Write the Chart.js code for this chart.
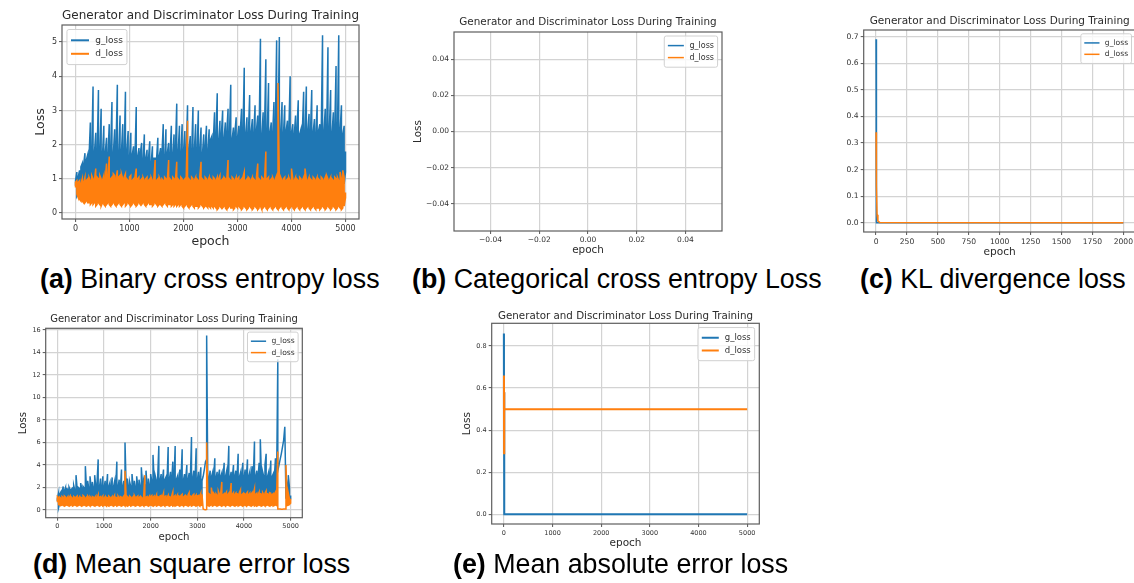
<!DOCTYPE html>
<html>
<head>
<meta charset="utf-8">
<script src="https://cdn.jsdelivr.net/npm/chart.js@4.4.1/dist/chart.umd.min.js"></script>
<style>
    html, body { margin: 0; padding: 0; background: #fff; }
    body { position: relative; width: 1134px; height: 583px; overflow: hidden; }
    canvas { position: absolute; }
    .cap { position: absolute; font-family: "Liberation Sans", Arial, sans-serif; font-size: 26.8px; line-height: 26px; color: #000; white-space: nowrap; }
    .cap b { font-weight: bold; }
</style>
</head>
<body>
<canvas id="chartA"></canvas>
<canvas id="chartB"></canvas>
<canvas id="chartC"></canvas>
<canvas id="chartD"></canvas>
<canvas id="chartE"></canvas>
<div class="cap" style="left:40px; top:266px;"><b>(a)</b> Binary cross entropy loss</div>
<div class="cap" style="left:412px; top:266px;"><b>(b)</b> Categorical cross entropy Loss</div>
<div class="cap" style="left:860px; top:266px;"><b>(c)</b> KL divergence loss</div>
<div class="cap" style="left:33px; top:551px;"><b>(d)</b> Mean square error loss</div>
<div class="cap" style="left:453px; top:551px;"><b>(e)</b> Mean absolute error loss</div>
<script>
const TITLE = 'Generator and Discriminator Loss During Training';
const BLUE = '#1f77b4';
const ORANGE = '#ff7f0e';

// (a) binary cross entropy: low / high of each 25-epoch window
const bceGHi = [
    0.95, 1.20, 1.05, 1.25, 1.35, 1.45, 1.40, 1.75, 1.55, 1.70,
    1.60, 2.65, 1.70, 3.70, 1.75, 2.35, 1.65, 3.60, 1.80, 3.05,
    1.70, 2.55, 1.75, 2.20, 1.65, 2.60, 1.80, 3.25, 1.70, 2.45,
    1.85, 3.75, 1.70, 2.85, 1.75, 2.60, 1.65, 3.55, 1.80, 2.40,
    1.60, 2.35, 1.70, 1.95, 1.55, 3.10, 1.65, 1.90, 1.75, 2.05,
    1.50, 2.30, 1.60, 1.85, 1.55, 2.10, 1.45, 1.95, 1.60, 1.60,
    1.55, 2.20, 1.65, 1.90, 1.70, 2.60, 1.60, 2.45, 1.75, 2.05,
    1.65, 2.55, 1.70, 2.30, 1.80, 3.20, 1.75, 2.55, 1.70, 2.60,
    1.80, 2.40, 1.75, 3.15, 1.85, 2.25, 1.70, 3.10, 1.80, 2.60,
    1.75, 3.00, 1.85, 2.50, 1.70, 2.30, 1.90, 2.55, 1.80, 2.45,
    2.15, 2.25, 2.05, 2.95, 2.20, 3.50, 2.10, 2.70, 2.25, 3.00,
    2.15, 2.65, 2.30, 3.05, 2.20, 3.75, 2.15, 2.50, 2.30, 2.80,
    2.20, 2.55, 2.35, 3.05, 2.25, 4.25, 2.30, 2.80, 2.20, 3.45,
    2.35, 2.75, 2.25, 3.15, 2.40, 2.85, 2.30, 5.10, 2.25, 2.95,
    2.40, 4.50, 2.30, 3.80, 2.35, 2.65, 2.25, 3.25, 2.40, 5.05,
    2.30, 5.15, 2.35, 3.25, 2.25, 3.15, 2.40, 2.70, 2.30, 4.00,
    2.35, 2.60, 2.25, 2.85, 2.40, 3.30, 2.30, 2.45, 2.35, 3.55,
    2.25, 3.70, 2.40, 2.90, 2.30, 3.60, 2.35, 2.75, 2.25, 3.15,
    2.40, 2.60, 2.30, 5.20, 2.35, 3.05, 2.25, 4.85, 2.40, 3.60,
    2.30, 2.95, 2.35, 4.30, 2.25, 5.20, 2.40, 3.15, 2.30, 2.55,
    1.80
];
const bceGLo = [
    0.80, 0.50, 0.60, 0.75, 0.85, 0.90, 0.95, 0.90, 1.00, 0.95,
    0.95, 0.90, 1.00, 0.85, 0.95, 0.90, 0.85, 1.00, 0.90, 0.95,
    0.85, 0.90, 0.95, 0.80, 0.90, 0.85, 0.95, 0.90, 0.80, 0.85,
    0.90, 0.85, 0.80, 0.90, 0.95, 0.85, 0.80, 0.90, 0.85, 0.95,
    0.90, 0.85, 0.95, 0.90, 0.85, 0.80, 0.90, 0.95, 0.85, 0.90,
    0.95, 0.90, 0.85, 0.90, 0.95, 0.85, 0.90, 0.80, 0.90, 0.85,
    0.90, 0.85, 0.95, 0.90, 0.85, 0.90, 0.80, 0.85, 0.90, 0.95,
    0.85, 0.90, 0.80, 0.85, 0.90, 0.95, 0.85, 0.90, 0.80, 0.90,
    0.85, 0.80, 0.90, 0.85, 0.80, 0.90, 0.85, 0.80, 0.90, 0.85,
    0.80, 0.85, 0.90, 0.80, 0.85, 0.80, 0.90, 0.85, 0.80, 0.85,
    0.80, 0.85, 0.75, 0.80, 0.85, 0.80, 0.75, 0.85, 0.80, 0.75,
    0.85, 0.80, 0.75, 0.80, 0.85, 0.75, 0.80, 0.85, 0.75, 0.80,
    0.80, 0.75, 0.85, 0.80, 0.75, 0.80, 0.85, 0.75, 0.80, 0.85,
    0.75, 0.80, 0.85, 0.75, 0.80, 0.75, 0.85, 0.80, 0.75, 0.80,
    0.85, 0.75, 0.80, 0.85, 0.75, 0.80, 0.75, 0.85, 0.80, 0.75,
    0.80, 0.85, 0.75, 0.80, 0.85, 0.75, 0.80, 0.75, 0.85, 0.80,
    0.75, 0.80, 0.85, 0.75, 0.80, 0.85, 0.75, 0.80, 0.75, 0.85,
    0.80, 0.75, 0.80, 0.85, 0.75, 0.80, 0.85, 0.75, 0.80, 0.75,
    0.85, 0.80, 0.75, 0.80, 0.85, 0.75, 0.80, 0.85, 0.75, 0.80,
    0.80, 0.75, 0.85, 0.80, 0.75, 0.80, 0.85, 0.75, 0.80, 0.85,
    1.20
];
const bceDHi = [
    0.90, 0.95, 0.90, 0.95, 0.85, 1.00, 0.90, 1.05, 0.95, 1.00,
    1.05, 0.95, 1.10, 1.00, 0.95, 1.30, 1.05, 1.00, 1.10, 1.00,
    0.95, 1.10, 1.00, 1.45, 1.05, 1.65, 1.00, 1.05, 1.15, 1.10,
    1.00, 1.25, 1.05, 1.10, 1.15, 1.00, 1.05, 1.15, 1.00, 0.95,
    1.05, 1.10, 0.95, 1.00, 1.05, 1.30, 1.00, 1.05, 0.95, 1.00,
    1.05, 0.95, 1.00, 1.05, 0.95, 1.00, 1.05, 0.95, 1.00, 1.55,
    0.95, 1.00, 1.05, 0.95, 1.00, 0.95, 1.05, 1.00, 0.95, 1.55,
    1.00, 0.95, 1.05, 1.00, 0.95, 1.50, 1.00, 0.95, 1.05, 1.00,
    0.95, 1.00, 1.05, 2.70, 1.00, 0.95, 1.05, 1.00, 0.95, 1.05,
    1.00, 0.95, 1.05, 1.50, 1.00, 0.95, 1.05, 1.00, 0.95, 1.05,
    1.00, 0.95, 1.05, 1.00, 0.95, 1.05, 1.00, 1.10, 0.95, 1.00,
    1.05, 1.00, 0.95, 1.55, 1.00, 0.95, 1.05, 1.00, 0.95, 1.05,
    1.00, 1.05, 0.95, 1.00, 1.05, 1.20, 0.95, 1.00, 1.05, 1.00,
    0.95, 1.05, 1.00, 0.95, 1.05, 1.45, 1.00, 0.95, 1.05, 1.00,
    0.95, 1.80, 1.00, 1.05, 0.95, 1.00, 1.05, 0.95, 1.00, 1.10,
    3.80, 1.00, 1.05, 0.95, 1.00, 1.05, 0.95, 1.00, 1.05, 0.95,
    1.30, 1.00, 0.95, 1.05, 1.00, 0.95, 1.05, 1.00, 0.95, 1.05,
    1.30, 1.00, 0.95, 1.05, 1.00, 0.95, 1.05, 1.00, 0.95, 1.05,
    1.00, 0.95, 1.05, 1.00, 0.95, 1.05, 1.10, 1.00, 0.95, 1.05,
    1.00, 0.95, 1.05, 1.00, 1.05, 0.95, 1.20, 1.00, 1.25, 1.05,
    0.60
];
const bceDLo = [
    0.75, 0.55, 0.45, 0.40, 0.35, 0.35, 0.30, 0.30, 0.35, 0.30,
    0.30, 0.25, 0.30, 0.25, 0.30, 0.20, 0.25, 0.30, 0.25, 0.20,
    0.30, 0.25, 0.20, 0.25, 0.30, 0.25, 0.20, 0.25, 0.30, 0.25,
    0.20, 0.25, 0.30, 0.25, 0.20, 0.25, 0.30, 0.20, 0.25, 0.30,
    0.25, 0.20, 0.25, 0.30, 0.25, 0.20, 0.25, 0.30, 0.25, 0.25,
    0.30, 0.25, 0.20, 0.25, 0.30, 0.25, 0.25, 0.20, 0.25, 0.30,
    0.25, 0.20, 0.25, 0.25, 0.20, 0.25, 0.30, 0.25, 0.20, 0.25,
    0.25, 0.20, 0.25, 0.20, 0.25, 0.20, 0.25, 0.20, 0.25, 0.20,
    0.15, 0.20, 0.25, 0.20, 0.15, 0.20, 0.25, 0.20, 0.15, 0.20,
    0.20, 0.15, 0.20, 0.25, 0.20, 0.15, 0.20, 0.20, 0.15, 0.20,
    0.15, 0.20, 0.15, 0.20, 0.15, 0.10, 0.15, 0.20, 0.15, 0.15,
    0.20, 0.15, 0.10, 0.15, 0.20, 0.15, 0.15, 0.10, 0.15, 0.20,
    0.15, 0.20, 0.15, 0.10, 0.15, 0.20, 0.15, 0.10, 0.15, 0.20,
    0.15, 0.10, 0.15, 0.20, 0.15, 0.10, 0.15, 0.20, 0.10, 0.15,
    0.20, 0.15, 0.10, 0.15, 0.20, 0.15, 0.10, 0.15, 0.20, 0.15,
    0.10, 0.15, 0.20, 0.15, 0.10, 0.15, 0.20, 0.15, 0.10, 0.15,
    0.20, 0.15, 0.10, 0.15, 0.20, 0.15, 0.10, 0.15, 0.20, 0.15,
    0.10, 0.15, 0.20, 0.15, 0.10, 0.15, 0.20, 0.15, 0.10, 0.15,
    0.15, 0.10, 0.15, 0.20, 0.15, 0.10, 0.15, 0.20, 0.15, 0.10,
    0.15, 0.20, 0.15, 0.10, 0.15, 0.20, 0.15, 0.10, 0.15, 0.20,
    0.45
];

// (c) KL divergence: collapses to zero right away
const klEpochs = [0, 3, 8, 15, 30, 2000];
const klG = [0.69, 0.0, 0.0, 0.0, 0.0, 0.0];
const klD = [0.34, 0.14, 0.03, 0.006, 0.001, 0.0];

// (d) mean square error: low / high of each 25-epoch window
const mseGHi = [
    1.00, 1.50, 1.40, 1.60, 1.55, 2.10, 1.70, 2.00, 1.90, 1.85,
    2.05, 1.80, 1.85, 1.95, 2.20, 1.75, 3.10, 1.85, 2.00, 1.90,
    2.40, 1.85, 2.10, 1.95, 3.90, 1.90, 2.60, 1.85, 3.00, 1.95,
    2.50, 1.90, 3.10, 2.00, 2.40, 4.50, 1.95, 2.80, 1.90, 3.00,
    2.00, 2.60, 1.95, 3.20, 2.05, 2.40, 1.90, 2.90, 2.00, 2.50,
    1.95, 4.30, 2.00, 2.70, 1.90, 3.60, 2.05, 2.60, 6.00, 2.00,
    2.80, 1.95, 2.50, 2.05, 3.20, 2.00, 2.60, 1.95, 3.00, 2.05,
    2.70, 2.00, 3.80, 2.05, 2.60, 2.10, 3.50, 2.00, 2.80, 2.10,
    3.20, 2.50, 4.90, 2.60, 3.00, 2.55, 2.90, 5.70, 2.60, 3.20,
    2.55, 3.60, 2.65, 2.90, 2.50, 5.60, 2.70, 3.40, 2.55, 4.30,
    2.60, 5.70, 2.70, 3.00, 2.55, 3.60, 2.75, 5.40, 2.60, 3.20,
    2.70, 4.00, 2.60, 3.30, 2.65, 6.50, 2.75, 3.50, 2.60, 5.50,
    2.65, 3.40, 2.70, 3.80, 2.60, 3.00, 3.60, 4.30, 15.50, 2.20,
    2.80, 3.50, 2.90, 3.30, 2.95, 4.60, 2.85, 3.40, 2.90, 3.60,
    2.95, 3.30, 2.85, 4.20, 2.90, 3.40, 2.95, 5.70, 2.85, 3.40,
    2.90, 4.00, 2.95, 3.50, 2.85, 5.00, 2.90, 3.30, 2.95, 4.20,
    2.85, 3.60, 2.90, 4.50, 2.95, 3.40, 2.85, 3.90, 2.90, 6.10,
    2.95, 3.50, 2.85, 4.20, 6.30, 2.90, 3.40, 2.95, 4.00, 5.00,
    2.90, 3.30, 2.85, 4.40, 2.95, 3.20, 2.90, 4.60, 2.85, 13.40,
    4.00, 4.50, 5.00, 5.60, 6.20, 7.40, 3.00, 2.20, 3.10, 2.00,
    1.30
];
const mseGLo = [
    0.80, 0.20, 0.60, 0.80, 0.85, 0.90, 0.85, 0.95, 0.90, 0.85,
    0.90, 0.95, 0.85, 0.90, 1.00, 0.85, 0.90, 0.95, 0.85, 0.90,
    0.95, 0.85, 0.90, 1.00, 0.90, 0.85, 0.95, 0.90, 0.85, 0.95,
    0.90, 0.85, 0.95, 0.90, 1.00, 0.85, 0.90, 0.95, 0.85, 0.90,
    0.85, 0.90, 0.95, 0.85, 0.90, 1.00, 0.85, 0.90, 0.95, 0.85,
    0.90, 0.95, 0.85, 0.90, 1.00, 0.85, 0.90, 0.95, 0.85, 0.90,
    0.95, 0.85, 0.90, 1.00, 0.85, 0.90, 0.95, 0.85, 0.90, 1.00,
    0.85, 0.90, 0.95, 0.85, 0.90, 1.00, 0.85, 0.90, 0.95, 0.85,
    0.90, 0.95, 0.85, 0.90, 1.00, 0.85, 0.90, 0.95, 0.85, 0.90,
    0.95, 0.85, 0.90, 1.00, 0.85, 0.90, 0.95, 0.85, 0.90, 1.00,
    0.85, 0.90, 0.95, 0.85, 0.90, 1.00, 0.85, 0.90, 0.95, 0.85,
    0.90, 0.95, 0.85, 0.90, 1.00, 0.85, 0.90, 0.95, 0.85, 0.90,
    0.95, 0.85, 0.90, 1.00, 0.90, 3.00, 3.60, 4.30, 4.50, 1.00,
    0.85, 0.90, 0.95, 0.85, 0.90, 1.00, 0.85, 0.90, 0.95, 0.85,
    0.90, 0.95, 0.85, 0.90, 1.00, 0.85, 0.90, 0.95, 0.85, 0.90,
    0.95, 0.85, 0.90, 1.00, 0.85, 0.90, 0.95, 0.85, 0.90, 1.00,
    0.85, 0.90, 0.95, 0.85, 0.90, 1.00, 0.85, 0.90, 0.95, 0.85,
    0.90, 0.95, 0.85, 0.90, 1.00, 0.85, 0.90, 0.95, 0.85, 0.90,
    0.95, 0.85, 0.90, 1.00, 0.85, 0.90, 0.95, 0.85, 0.90, 3.50,
    4.00, 4.50, 5.00, 5.60, 6.20, 7.40, 1.00, 0.80, 0.90, 0.85,
    1.00
];
const mseDHi = [
    1.20, 1.10, 1.15, 1.05, 1.20, 1.10, 1.25, 1.15, 1.05, 1.20,
    1.10, 1.25, 1.15, 1.05, 1.20, 1.10, 1.15, 1.25, 1.05, 1.20,
    1.15, 1.10, 1.30, 1.20, 1.05, 1.15, 1.25, 1.10, 1.20, 1.05,
    1.20, 1.15, 1.10, 1.25, 1.05, 1.35, 1.15, 1.20, 1.10, 1.25,
    1.05, 1.20, 1.15, 1.10, 1.25, 1.15, 1.05, 1.20, 1.10, 1.30,
    1.15, 1.10, 1.25, 1.05, 1.20, 1.15, 1.10, 1.25, 3.50, 1.15,
    1.20, 1.10, 1.25, 1.15, 1.05, 1.20, 1.30, 1.10, 1.15, 1.25,
    1.10, 1.20, 1.15, 1.05, 1.25, 3.10, 1.15, 1.20, 1.10, 1.25,
    1.20, 1.30, 1.15, 1.25, 1.10, 1.35, 1.20, 1.15, 1.25, 1.30,
    1.15, 1.50, 1.20, 1.25, 1.10, 1.30, 1.20, 1.15, 1.25, 1.60,
    1.20, 1.30, 1.15, 1.35, 1.25, 1.20, 1.30, 1.40, 1.15, 1.25,
    1.30, 1.20, 1.35, 1.55, 1.25, 1.20, 1.30, 1.40, 1.20, 1.35,
    1.25, 1.30, 1.20, 1.50, 1.40, 0.10, 0.05, 0.03, 6.00, 1.30,
    1.45, 1.35, 2.00, 1.40, 1.50, 1.35, 1.45, 1.30, 1.70, 1.40,
    1.50, 2.50, 1.35, 1.45, 1.40, 1.60, 1.35, 1.50, 1.45, 2.40,
    1.40, 1.55, 1.35, 1.50, 1.45, 1.40, 1.55, 1.80, 1.35, 1.45,
    1.50, 1.40, 1.45, 1.60, 1.35, 1.50, 1.40, 1.55, 1.45, 1.90,
    1.40, 1.50, 1.35, 1.60, 1.45, 1.40, 1.55, 1.35, 1.50, 1.70,
    1.45, 1.40, 1.55, 1.50, 1.35, 1.45, 1.40, 1.60, 1.50, 5.20,
    0.10, 0.10, 0.08, 0.08, 0.10, 0.10, 4.00, 1.20, 1.50, 1.00,
    1.00
];
const mseDLo = [
    0.70, 0.50, 0.45, 0.40, 0.45, 0.40, 0.35, 0.40, 0.45, 0.40,
    0.35, 0.40, 0.45, 0.35, 0.40, 0.45, 0.40, 0.35, 0.40, 0.45,
    0.40, 0.35, 0.40, 0.45, 0.40, 0.35, 0.40, 0.45, 0.35, 0.40,
    0.45, 0.40, 0.35, 0.40, 0.45, 0.40, 0.35, 0.40, 0.45, 0.35,
    0.40, 0.45, 0.35, 0.40, 0.35, 0.40, 0.45, 0.40, 0.35, 0.40,
    0.45, 0.35, 0.40, 0.45, 0.40, 0.35, 0.40, 0.45, 0.35, 0.40,
    0.35, 0.40, 0.45, 0.35, 0.40, 0.45, 0.40, 0.35, 0.40, 0.45,
    0.40, 0.35, 0.40, 0.45, 0.35, 0.40, 0.45, 0.40, 0.35, 0.40,
    0.45, 0.40, 0.35, 0.40, 0.45, 0.35, 0.40, 0.45, 0.40, 0.35,
    0.40, 0.45, 0.35, 0.40, 0.45, 0.40, 0.35, 0.40, 0.45, 0.35,
    0.40, 0.35, 0.40, 0.45, 0.40, 0.35, 0.40, 0.45, 0.35, 0.40,
    0.45, 0.40, 0.35, 0.40, 0.45, 0.35, 0.40, 0.45, 0.40, 0.35,
    0.40, 0.45, 0.35, 0.40, 0.45, 0.10, 0.05, 0.03, 0.05, 0.40,
    0.35, 0.40, 0.45, 0.35, 0.40, 0.45, 0.40, 0.35, 0.40, 0.45,
    0.40, 0.35, 0.40, 0.45, 0.35, 0.40, 0.45, 0.40, 0.35, 0.40,
    0.45, 0.40, 0.35, 0.40, 0.45, 0.35, 0.40, 0.45, 0.40, 0.35,
    0.40, 0.45, 0.35, 0.40, 0.45, 0.40, 0.35, 0.40, 0.45, 0.35,
    0.40, 0.35, 0.40, 0.45, 0.40, 0.35, 0.40, 0.45, 0.35, 0.40,
    0.45, 0.40, 0.35, 0.40, 0.45, 0.35, 0.40, 0.45, 0.40, 0.10,
    0.10, 0.10, 0.08, 0.08, 0.10, 0.10, 0.10, 0.40, 0.45, 0.50,
    0.60
];

// (e) mean absolute error: settles after a few epochs
const maeEpochs = [0, 2, 4, 6, 8, 10, 5000];
const maeG = [0.86, 0.29, 0.58, 0.43, 0.52, 0.0, 0.0];
const maeD = [0.50, 0.66, 0.29, 0.58, 0.43, 0.50, 0.50];

// tick values and labels
const epochTicks = [0, 1000, 2000, 3000, 4000, 5000];
const epochLabels = ['0', '1000', '2000', '3000', '4000', '5000'];
const bceTicks = [0, 1, 2, 3, 4, 5];
const bceLabels = ['0', '1', '2', '3', '4', '5'];
const cceTicks = [-0.04, -0.02, 0, 0.02, 0.04];
const cceLabels = ['\u22120.04', '\u22120.02', '0.00', '0.02', '0.04'];
const klEpochTicks = [0, 250, 500, 750, 1000, 1250, 1500, 1750, 2000];
const klEpochLabels = ['0', '250', '500', '750', '1000', '1250', '1500', '1750', '2000'];
const klTicks = [0, 0.1, 0.2, 0.3, 0.4, 0.5, 0.6, 0.7];
const klLabels = ['0.0', '0.1', '0.2', '0.3', '0.4', '0.5', '0.6', '0.7'];
const mseTicks = [0, 2, 4, 6, 8, 10, 12, 14, 16];
const mseLabels = ['0', '2', '4', '6', '8', '10', '12', '14', '16'];
const maeTicks = [0, 0.2, 0.4, 0.6, 0.8];
const maeLabels = ['0.0', '0.2', '0.4', '0.6', '0.8'];

[bceGHi, bceGLo, bceDHi, bceDLo, mseGHi, mseGLo, mseDHi, mseDLo].forEach((arr, k) => {
    if (arr.length !== 201) throw new Error('series ' + k + ' has ' + arr.length + ' values');
});

const EPOCH_STEP = 25;
// each window is drawn as a stroke from its low to its high, snaking left to right
const band = (lo, hi) => lo.flatMap((l, i) => {
    const x = i * EPOCH_STEP;
    return i % 2 === 0 ? [{ x, y: l }, { x, y: hi[i] }] : [{ x, y: hi[i] }, { x, y: l }];
});
const paired = (xs, ys) => ys.map((y, i) => ({ x: xs[i], y }));

Chart.defaults.font.family = '"DejaVu Sans", sans-serif';

// matplotlib look: full axes frame plus a framed legend inside the plot
const mplFrame = {
    id: 'mplFrame',
    afterDraw(chart, args, opts) {
        const { ctx, chartArea: a } = chart;
        ctx.save();
        ctx.strokeStyle = '#5e5e5e';
        ctx.lineWidth = 1.2;
        ctx.strokeRect(a.left, a.top, a.right - a.left, a.bottom - a.top);

        const fs = opts.size;
        const items = chart.data.datasets;
        ctx.font = fs + 'px "DejaVu Sans"';
        const tw = Math.max(...items.map(d => ctx.measureText(d.label).width));
        const pad = 0.45 * fs, hl = 2 * fs, gap = 0.7 * fs, rowH = 1.5 * fs;
        const w = pad * 2 + hl + gap + tw;
        const h = pad * 2 + rowH * items.length;
        const x0 = opts.loc === 'ul' ? a.left + 0.55 * fs : a.right - 0.55 * fs - w;
        const y0 = a.top + 0.5 * fs;

        ctx.beginPath();
        ctx.roundRect(x0, y0, w, h, 2);
        ctx.fillStyle = 'rgba(255,255,255,0.8)';
        ctx.fill();
        ctx.strokeStyle = '#d0d0d0';
        ctx.lineWidth = 1;
        ctx.stroke();

        items.forEach((d, i) => {
            const cy = y0 + pad + rowH * (i + 0.5);
            ctx.beginPath();
            ctx.moveTo(x0 + pad, cy);
            ctx.lineTo(x0 + pad + hl, cy);
            ctx.strokeStyle = d.borderColor;
            ctx.lineWidth = opts.swatch;
            ctx.stroke();
            ctx.fillStyle = '#333';
            ctx.textBaseline = 'middle';
            ctx.textAlign = 'left';
            ctx.fillText(d.label, x0 + pad + hl + gap, cy);
        });
        ctx.restore();
    }
};

function makePanel(id, p) {
    const lh = s => s * 1.2;
    const left = Math.floor(p.yLabelX ? p.yLabelX - lh(p.labelSize) / 2 : p.plot.l - 30);
    const top = Math.floor(p.titleY - lh(p.titleSize) / 2);
    const bottom = Math.ceil(p.xLabelY + lh(p.labelSize) / 2);
    const right = Math.ceil(p.plot.r + 14);

    const cv = document.getElementById(id);
    cv.width = right - left;
    cv.height = bottom - top;
    cv.style.left = left + 'px';
    cv.style.top = top + 'px';

    const titlePadTop = p.titleY - lh(p.titleSize) / 2 - top;
    const titlePadBottom = p.plot.t - top - titlePadTop - lh(p.titleSize);
    const grid = { color: '#d3d3d3', lineWidth: 1.2, drawTicks: true, tickLength: 3, tickColor: '#555', tickWidth: 1 };
    const tickFont = { size: p.tickSize };

    new Chart(cv, {
        type: 'line',
        data: {
            datasets: p.series.map(s => ({
                label: s.label,
                data: s.data,
                borderColor: s.color,
                borderWidth: p.lineWidth,
                pointRadius: 0,
                tension: 0,
                order: s.order
            }))
        },
        options: {
            responsive: false,
            animation: false,
            events: [],
            parsing: false,
            layout: { padding: { left: 0, top: 0, bottom: 0, right: right - p.plot.r } },
            plugins: {
                legend: { display: false },
                tooltip: { enabled: false },
                title: {
                    display: true,
                    text: TITLE,
                    fullSize: false,
                    color: '#2b2b2b',
                    font: { size: p.titleSize, weight: 'normal' },
                    padding: { top: titlePadTop, bottom: titlePadBottom }
                },
                mplFrame: { loc: p.legendLoc, size: p.legendSize, swatch: p.swatch }
            },
            scales: {
                x: {
                    type: 'linear',
                    min: p.x.min,
                    max: p.x.max,
                    afterBuildTicks: s => { s.ticks = p.x.ticks.map(v => ({ value: v })); },
                    afterFit: s => { s.height = bottom - p.plot.b; },
                    ticks: { callback: (v, i) => p.x.labels[i], font: tickFont, color: '#333', padding: 2, maxRotation: 0, autoSkip: false },
                    grid: grid,
                    border: { display: false },
                    title: {
                        display: true,
                        text: 'epoch',
                        color: '#2b2b2b',
                        font: { size: p.labelSize },
                        padding: { top: 0, bottom: bottom - p.xLabelY - lh(p.labelSize) / 2 }
                    }
                },
                y: {
                    type: 'linear',
                    min: p.y.min,
                    max: p.y.max,
                    afterBuildTicks: s => { s.ticks = p.y.ticks.map(v => ({ value: v })); },
                    afterFit: s => { s.width = p.plot.l - left; },
                    ticks: { callback: (v, i) => p.y.labels[i], font: tickFont, color: '#333', padding: 2, autoSkip: false },
                    grid: grid,
                    border: { display: false },
                    title: {
                        display: !!p.yLabelX,
                        text: 'Loss',
                        color: '#2b2b2b',
                        font: { size: p.labelSize },
                        padding: { top: p.yLabelX ? p.yLabelX - lh(p.labelSize) / 2 - left : 0, bottom: 0 }
                    }
                }
            }
        },
        plugins: [mplFrame]
    });
}

// g_loss drawn first, d_loss over it
const seriesOf = (g, d) => [
    { label: 'g_loss', data: g, color: BLUE, order: 2 },
    { label: 'd_loss', data: d, color: ORANGE, order: 1 }
];

makePanel('chartA', {
    plot: { l: 62, t: 25, r: 359, b: 219 },
    x: { min: -250, max: 5250, ticks: epochTicks, labels: epochLabels },
    y: { min: -0.175, max: 5.5, ticks: bceTicks, labels: bceLabels },
    series: seriesOf(band(bceGLo, bceGHi), band(bceDLo, bceDHi)),
    titleY: 16, titleSize: 12.3,
    yLabelX: 41, xLabelY: 242, labelSize: 12.5,
    tickSize: 8, lineWidth: 1.5,
    legendLoc: 'ul', legendSize: 9, swatch: 2
});

makePanel('chartB', {
    plot: { l: 454, t: 32, r: 722, b: 231 },
    x: { min: -0.055, max: 0.055, ticks: cceTicks, labels: cceLabels },
    y: { min: -0.055, max: 0.055, ticks: cceTicks, labels: cceLabels },
    series: seriesOf([], []),
    titleY: 22.5, titleSize: 10.4,
    yLabelX: 418.5, xLabelY: 250, labelSize: 10.4,
    tickSize: 7.5, lineWidth: 1.5,
    legendLoc: 'ur', legendSize: 8, swatch: 1.5
});

makePanel('chartC', {
    plot: { l: 863.7, t: 30, r: 1135.7, b: 232 },
    x: { min: -100, max: 2100, ticks: klEpochTicks, labels: klEpochLabels },
    y: { min: -0.035, max: 0.725, ticks: klTicks, labels: klLabels },
    series: seriesOf(paired(klEpochs, klG), paired(klEpochs, klD)),
    titleY: 21, titleSize: 10.5,
    yLabelX: 0, xLabelY: 252, labelSize: 10.6,
    tickSize: 7.6, lineWidth: 1.5,
    legendLoc: 'ur', legendSize: 7.6, swatch: 1.5
});

makePanel('chartD', {
    plot: { l: 45.7, t: 328.3, r: 302.3, b: 517.7 },
    x: { min: -250, max: 5250, ticks: epochTicks, labels: epochLabels },
    y: { min: -0.68, max: 16.15, ticks: mseTicks, labels: mseLabels },
    series: seriesOf(band(mseGLo, mseGHi), band(mseDLo, mseDHi)),
    titleY: 319.5, titleSize: 10,
    yLabelX: 23, xLabelY: 537, labelSize: 10.2,
    tickSize: 6.5, lineWidth: 1.5,
    legendLoc: 'ur', legendSize: 7.6, swatch: 1.5
});

makePanel('chartE', {
    plot: { l: 491.7, t: 323.3, r: 759.3, b: 524 },
    x: { min: -250, max: 5250, ticks: epochTicks, labels: epochLabels },
    y: { min: -0.046, max: 0.908, ticks: maeTicks, labels: maeLabels },
    series: seriesOf(paired(maeEpochs, maeG), paired(maeEpochs, maeD)),
    titleY: 316.5, titleSize: 10.3,
    yLabelX: 467.5, xLabelY: 543, labelSize: 10.5,
    tickSize: 6.5, lineWidth: 2,
    legendLoc: 'ur', legendSize: 8.5, swatch: 2
});
</script>
</body>
</html>
